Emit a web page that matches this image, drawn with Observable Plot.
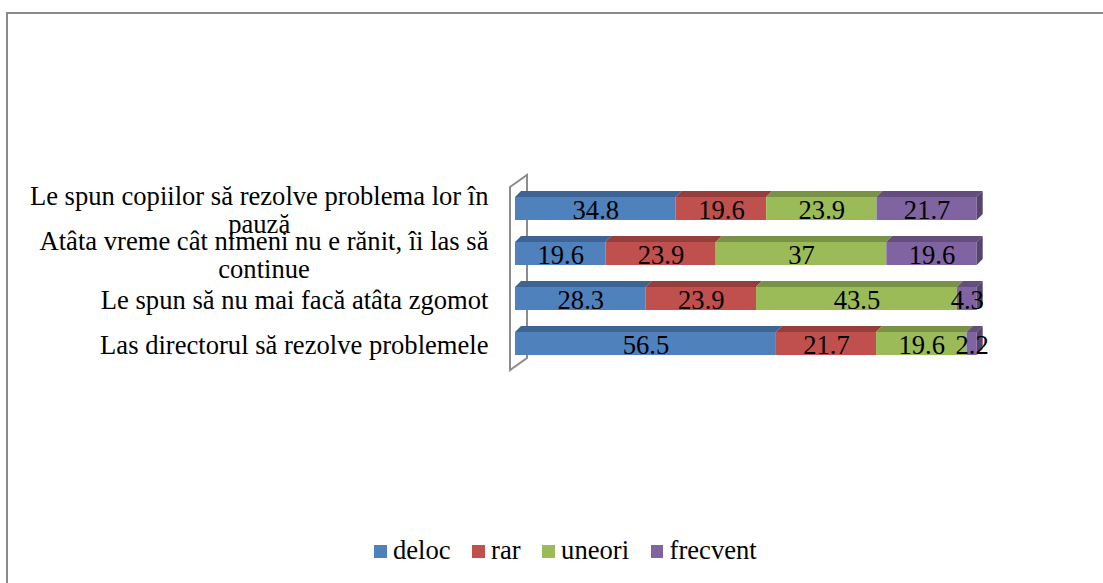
<!DOCTYPE html>
<html>
<head>
<meta charset="utf-8">
<script src="https://cdn.jsdelivr.net/npm/d3@7"></script>
<script src="https://cdn.jsdelivr.net/npm/@observablehq/plot@0.6"></script>
<style>
  html, body { margin: 0; padding: 0; background: #fff; overflow: hidden; }
  #chart { position: relative; width: 1103px; height: 583px; }
  #chart svg { position: absolute; left: 0; top: 0; }
  #border { position: absolute; left: 6px; top: 12px; width: 1200px; height: 700px;
            border: 2px solid #8a8a8a; box-sizing: border-box; pointer-events: none; }
  #legend { position: absolute; left: 374px; top: 535px; display: flex; white-space: nowrap;
            font: 26.6px "Liberation Serif", "Times New Roman", serif; line-height: 30px; color: #000; }
  #legend .item { margin-right: 21.5px; }
  #legend .sw { display: inline-block; width: 12.5px; height: 12.5px; margin-right: 6.5px;
                margin-bottom: 1.3px; vertical-align: baseline; }
</style>
</head>
<body>
<div id="chart"></div>
<script>
// Survey answers, percent of respondents per statement
const categories = [
  "Le spun copiilor să rezolve problema lor în pauză",
  "Atâta vreme cât nimeni nu e rănit, îi las să continue",
  "Le spun să nu mai facă atâta zgomot",
  "Las directorul să rezolve problemele"
];
const series = ["deloc", "rar", "uneori", "frecvent"];
const deloc    = [34.8, 19.6, 28.3, 56.5];
const rar      = [19.6, 23.9, 23.9, 21.7];
const uneori   = [23.9, 37, 43.5, 19.6];
const frecvent = [21.7, 19.6, 4.3, 2.2];
const colors = ["#4F81BD", "#C0504D", "#9BBB59", "#8064A2"];

const valuesBySeries = {deloc, rar, uneori, frecvent};
const data = series.flatMap(s => categories.map((c, i) => ({category: c, series: s, value: valuesBySeries[s][i]})));

const FONT = '"Liberation Serif", "Times New Roman", serif';
const FONT_SIZE = 26.6;
const DX = 6, DY = 6; // depth of the 3D bars

// 3D bar segments: front face, slanted top face, and right side face at the end of each bar
function bars3d(index, scales, values) {
  const {x1: X1, x2: X2, y: Y, fill: F} = values;
  const bw = typeof scales.y.bandwidth === "function" ? scales.y.bandwidth() : scales.y.bandwidth;
  const g = d3.create("svg:g");
  const end = new Map();
  for (const i of index) end.set(Y[i], Math.max(end.get(Y[i]) ?? -Infinity, X1[i], X2[i]));
  for (const i of index) {
    const a = Math.min(X1[i], X2[i]), b = Math.max(X1[i], X2[i]), y = Y[i];
    g.append("rect").attr("x", a).attr("y", y).attr("width", b - a).attr("height", bw).attr("fill", F[i]);
    g.append("path")
      .attr("d", `M${a},${y}L${b},${y}L${b + DX},${y - DY}L${a + DX},${y - DY}Z`)
      .attr("fill", d3.color(F[i]).darker(0.7).formatHex());
  }
  for (const i of index) {
    const b = Math.max(X1[i], X2[i]), y = Y[i];
    if (b !== end.get(Y[i])) continue;
    g.append("path")
      .attr("d", `M${b},${y}L${b + DX},${y - DY}L${b + DX},${y + bw - DY}L${b},${y + bw}Z`)
      .attr("fill", d3.color(F[i]).darker(1.1).formatHex());
  }
  return g.node();
}

// thin back wall behind the category axis
function wall(index, scales, values, dims) {
  const {marginLeft, marginTop, marginBottom, height} = dims;
  const xl = marginLeft - 5, xr = marginLeft + 12;
  const yt = marginTop + 3.5, yb = height - marginBottom + 3;
  return d3.create("svg:path")
    .attr("d", `M${xl},${yt}L${xr},${yt - 12}L${xr},${yb - 12}L${xl},${yb}Z`)
    .attr("fill", "none").attr("stroke", "#8c8c8c").attr("stroke-width", 2)
    .attr("stroke-linejoin", "miter")
    .node();
}

// wrap category labels the way the axis does, measuring with the label font
const ctx = document.createElement("canvas").getContext("2d");
ctx.font = `${FONT_SIZE}px ${FONT}`;
function wrap(text, maxWidth) {
  const words = text.split(" ");
  const lines = [];
  let line = "";
  for (const w of words) {
    const t = line ? line + " " + w : w;
    if (line && ctx.measureText(t).width > maxWidth) { lines.push(line); line = w; }
    else line = t;
  }
  if (line) lines.push(line);
  return lines;
}

const LABEL_RIGHT = 488;   // right edge of the category labels
const LINE_HEIGHT = 28;
const marginLeft = 515;
const labelMarks = categories.flatMap(cat => {
  const lines = wrap(cat, 470);
  const maxW = d3.max(lines, l => ctx.measureText(l).width);
  return lines.map((l, k) => Plot.text([l], {
    y: () => cat,
    text: d => d,
    frameAnchor: "left",
    textAnchor: "middle",
    dx: LABEL_RIGHT - marginLeft - maxW / 2,
    dy: (k - (lines.length - 1) / 2) * LINE_HEIGHT + 1,
    fill: "#000"
  }));
});

const plot = Plot.plot({
  width: 1103,
  height: 530,
  marginLeft,
  marginRight: 126.3,
  marginTop: 183.5,
  marginBottom: 162.9,
  style: {fontFamily: FONT, fontSize: `${FONT_SIZE}px`, background: "transparent", color: "#000"},
  x: {domain: [0, 1], axis: null},
  y: {domain: categories, axis: null, paddingInner: 0.5, paddingOuter: 0.25},
  color: {domain: series, range: colors},
  marks: [
    wall,
    Plot.barX(data, Plot.stackX({offset: "normalize", x: "value", y: "category", fill: "series", render: bars3d})),
    Plot.text(data, Plot.stackX({offset: "normalize", x: "value", y: "category", z: "series",
      text: d => String(d.value), fill: "#000", dy: 1})),
    ...labelMarks
  ]
});

const chart = document.getElementById("chart");
chart.append(plot);

const border = document.createElement("div");
border.id = "border";
chart.append(border);

const legend = document.createElement("div");
legend.id = "legend";
series.forEach((s, i) => {
  const item = document.createElement("span");
  item.className = "item";
  const sw = document.createElement("span");
  sw.className = "sw";
  sw.style.background = colors[i];
  item.append(sw, document.createTextNode(s));
  legend.append(item);
});
chart.append(legend);
</script>
</body>
</html>
